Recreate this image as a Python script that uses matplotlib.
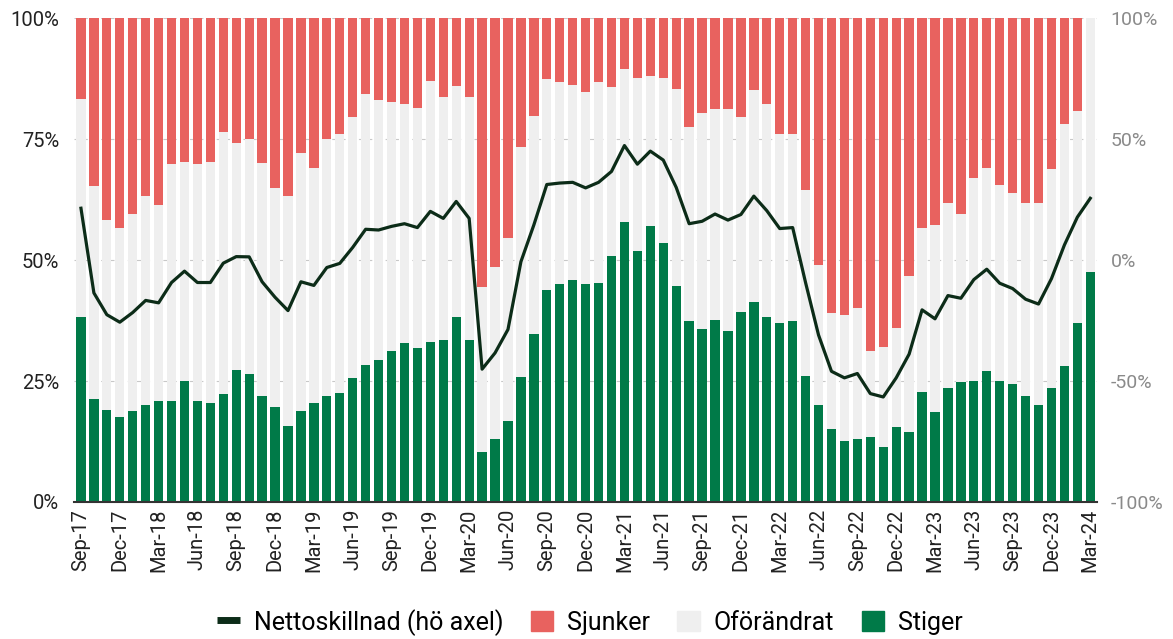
import numpy as np
import matplotlib
matplotlib.use("Agg")
import matplotlib.pyplot as plt
from matplotlib.patches import Patch
from matplotlib.lines import Line2D

plt.rcParams["font.family"] = ["Roboto", "DejaVu Sans"]

# monthly, Sep-17 .. Mar-24
months = ["Jan", "Feb", "Mar", "Apr", "May", "Jun",
          "Jul", "Aug", "Sep", "Oct", "Nov", "Dec"]
labels = []
for k in range(79):
    m = (8 + k) % 12
    y = 17 + (8 + k) // 12
    labels.append(f"{months[m]}-{y}")

stiger = [38.2, 21.2, 19.1, 17.6, 18.8, 20.0, 20.9, 20.9, 25.1, 20.9,
          20.4, 22.3, 27.3, 26.4, 22.0, 19.7, 15.8, 18.8, 20.4, 22.0,
          22.6, 25.6, 28.4, 29.3, 31.2, 32.8, 31.9, 33.1, 33.5, 38.2,
          33.5, 10.4, 13.0, 16.8, 25.9, 34.7, 43.9, 45.0, 45.9, 45.0,
          45.3, 50.9, 57.9, 51.9, 57.0, 53.6, 44.7, 37.5, 35.7, 37.7,
          35.4, 39.3, 41.3, 38.2, 37.0, 37.4, 26.1, 20.0, 15.0, 12.7,
          13.0, 13.5, 11.4, 15.4, 14.4, 22.7, 18.5, 23.5, 24.7, 25.0,
          27.1, 25.0, 24.3, 22.0, 20.0, 23.5, 28.1, 36.9, 47.5]
sjunker = [16.8, 34.8, 41.7, 43.3, 40.5, 36.7, 38.6, 30.2, 29.7, 30.2,
           29.7, 23.6, 25.9, 25.1, 30.0, 35.1, 36.7, 27.8, 30.9, 25.1,
           24.0, 20.4, 15.7, 16.9, 17.3, 17.8, 18.5, 13.0, 16.3, 14.0,
           16.3, 55.5, 51.4, 45.5, 26.6, 20.2, 12.7, 13.2, 13.8, 15.2,
           13.2, 14.3, 10.6, 12.3, 12.0, 12.3, 14.7, 22.5, 19.7, 18.7,
           18.9, 20.5, 14.9, 17.8, 24.0, 24.0, 35.5, 51.0, 61.0, 61.4,
           59.9, 68.7, 68.0, 64.1, 53.3, 43.3, 42.8, 38.2, 40.5, 33.1,
           30.9, 34.6, 36.1, 38.2, 38.2, 31.2, 21.9, 19.2, np.nan]
netto = [21.4, -13.6, -22.6, -25.7, -21.7, -16.7, -17.7, -9.3, -4.6, -9.3,
         -9.3, -1.3, 1.4, 1.3, -9.0, -15.4, -20.9, -9.0, -10.5, -3.1,
         -1.4, 5.2, 12.7, 12.4, 13.9, 15.0, 13.4, 20.1, 17.2, 24.2,
         17.2, -45.1, -38.4, -28.7, -0.7, 14.5, 31.2, 31.8, 32.1, 29.8,
         32.1, 36.6, 47.3, 39.6, 45.0, 41.3, 30.0, 15.0, 16.0, 19.0,
         16.5, 18.8, 26.4, 20.4, 13.0, 13.4, -9.4, -31.0, -46.0, -48.7,
         -46.9, -55.2, -56.6, -48.7, -38.9, -20.6, -24.3, -14.7, -15.8, -8.1,
         -3.8, -9.6, -11.8, -16.2, -18.2, -7.7, 6.2, 17.7, 25.5]

RED, GREY, GREEN, LINE = "#e8625f", "#efefef", "#007a48", "#0c2c18"

s = np.array(stiger)
j = np.nan_to_num(np.array(sjunker))
o = 100 - s - j
x = np.arange(len(labels))

fig = plt.figure(figsize=(11.73, 6.39), dpi=100)
ax = fig.add_axes([0.0635, 0.2144, 0.8715, 0.7574])
ax.bar(x, s, width=0.72, color=GREEN, zorder=2)
ax.bar(x, o, width=0.72, bottom=s, color=GREY, zorder=2)
ax.bar(x, j, width=0.72, bottom=s + o, color=RED, zorder=2)
ax.set_xlim(-0.5, len(x) - 0.5)
ax.set_ylim(0, 100)
ax.set_yticks([0, 25, 50, 75, 100])
ax.set_yticklabels([f"{v}%" for v in [0, 25, 50, 75, 100]])
ax.grid(axis="y", ls=(0, (4, 4)), color="#c8c8c8", lw=0.8, zorder=3)
ax.set_xticks(x[::3])
ax.set_xticklabels(labels[::3], rotation=90)
ax.tick_params(length=0, labelsize=14.5, colors="#222222")
ax.tick_params(axis="y", pad=11)
ax.tick_params(axis="x", pad=5)
for sp in ["top", "right", "left"]:
    ax.spines[sp].set_visible(False)
ax.spines["bottom"].set_color("#333333")
ax.spines["bottom"].set_linewidth(1.5)
ax.spines["bottom"].set_zorder(5)

ax2 = ax.twinx()
ax2.plot(x, netto, color=LINE, lw=2.3, zorder=4)
ax2.set_ylim(-100, 100)
ax2.set_yticks([-100, -50, 0, 50, 100])
ax2.set_yticklabels([f"{v}%" for v in [-100, -50, 0, 50, 100]])
ax2.tick_params(length=0, labelsize=14, colors="#8a8a8a", pad=10)
for sp in ax2.spines.values():
    sp.set_visible(False)

handles = [Line2D([0], [0], color=LINE, lw=5, solid_capstyle="butt"),
           Patch(color=RED), Patch(color=GREY), Patch(color=GREEN)]
names = ["Nettoskillnad (hö axel)", "Sjunker", "Oförändrat", "Stiger"]
fig.legend(handles, names, loc="lower center", bbox_to_anchor=(0.503, -0.03),
           ncol=4, frameon=False, fontsize=18, handlelength=0.9,
           handleheight=0.9, handletextpad=0.55, columnspacing=1.1)

fig.savefig("out.png", dpi=100)
